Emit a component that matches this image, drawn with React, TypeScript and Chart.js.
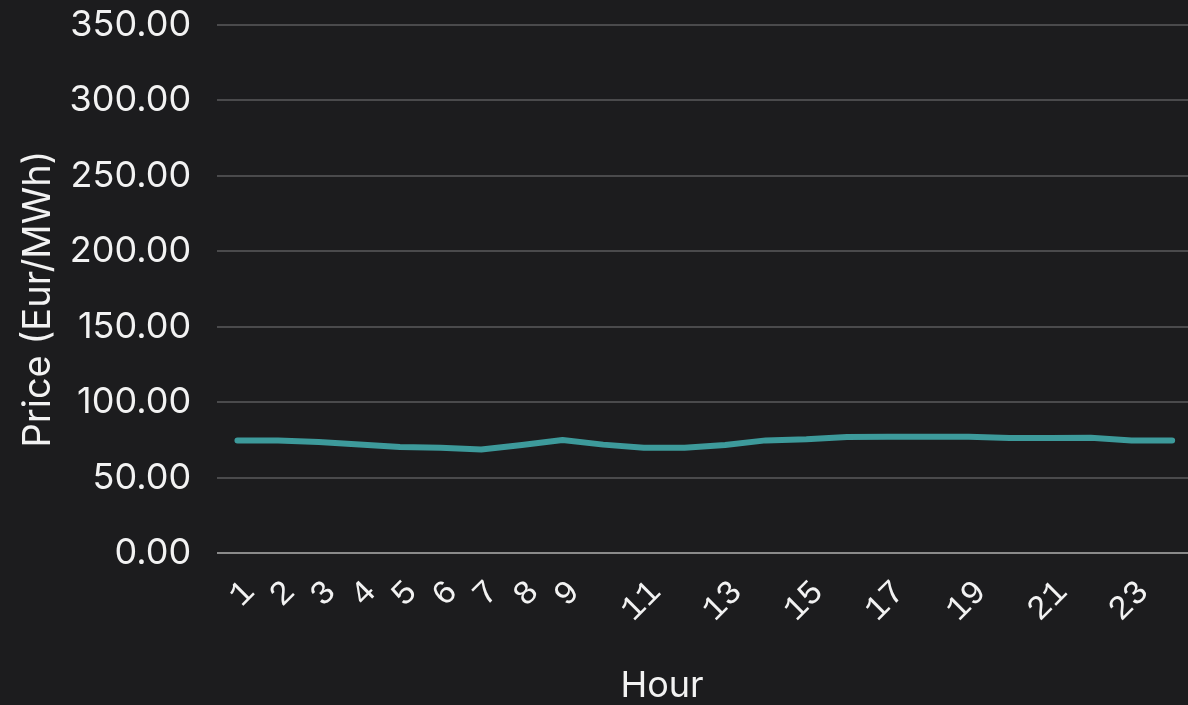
import React, { useEffect, useRef } from "react";
import { Chart, registerables } from "chart.js";

Chart.register(...registerables);

const hours: string[] = [
  "1", "2", "3", "4", "5", "6", "7", "8", "9", "10", "11", "12",
  "13", "14", "15", "16", "17", "18", "19", "20", "21", "22", "23", "24",
];

const prices: number[] = [
  74.8, 74.8, 73.7, 72.0, 70.4, 69.9, 68.8, 71.7, 75.0, 72.0, 69.9, 69.9,
  71.7, 74.8, 75.5, 77.0, 77.2, 77.2, 77.2, 76.4, 76.4, 76.6, 74.8, 74.8,
];

const yMin = 0;
const yMax = 350;
const yStep = 50;

const X_TITLE = "Hour";
const Y_TITLE = "Price (Eur/MWh)";

const BG = "#1c1c1e";
const TEXT = "#f2f2f2";
const SANS = "Inter, sans-serif";
const MONO = "'Liberation Mono', monospace";

const axisTitlePlugin = {
  id: "axisTitles",
  afterDraw(chart: any) {
    const { ctx } = chart;
    ctx.save();
    ctx.fillStyle = TEXT;
    ctx.textAlign = "center";
    ctx.textBaseline = "alphabetic";
    ctx.font = `36px ${SANS}`;
    ctx.fillText(X_TITLE, 662, 697);
    ctx.translate(50, 299);
    ctx.rotate(-Math.PI / 2);
    ctx.font = `38px ${SANS}`;
    ctx.fillText(Y_TITLE, 0, 0);
    ctx.restore();
  },
};

export default function App() {
  const ref = useRef<HTMLCanvasElement | null>(null);

  useEffect(() => {
    if (!ref.current) return;
    const chart = new Chart(ref.current, {
      type: "line",
      data: {
        labels: hours,
        datasets: [
          {
            label: "Price",
            data: prices,
            borderColor: "#3d9a9b",
            backgroundColor: "#3d9a9b",
            borderWidth: 6,
            pointRadius: 0,
            tension: 0,
            borderCapStyle: "round",
            borderJoinStyle: "round",
          },
        ],
      },
      plugins: [axisTitlePlugin],
      options: {
        responsive: false,
        animation: false,
        devicePixelRatio: 1,
        layout: { padding: { top: 25, right: 0, bottom: 75, left: 69.5 } },
        plugins: { legend: { display: false }, tooltip: { enabled: false } },
        scales: {
          x: {
            offset: true,
            grid: {
              display: true,
              drawOnChartArea: false,
              drawTicks: true,
              tickLength: 19,
              color: "rgba(0,0,0,0)",
              tickColor: "rgba(0,0,0,0)",
            },
            border: { display: false },
            ticks: {
              autoSkip: false,
              minRotation: 45,
              maxRotation: 45,
              padding: 0,
              labelOffset: 12,
              color: TEXT,
              font: { family: MONO, size: 34 },
              callback: (_v: any, i: number) => {
                const n = Number(hours[i]);
                return n >= 10 && n % 2 === 0 ? "" : hours[i];
              },
            },
          },
          y: {
            min: yMin,
            max: yMax,
            grid: {
              color: (ctx: any) => (ctx.tick && ctx.tick.value === 0 ? "#8a8a8a" : "#4a4a4c"),
              lineWidth: 2,
              drawTicks: true,
              tickLength: 26,
              tickColor: "rgba(0,0,0,0)",
            },
            border: { display: false },
            ticks: {
              stepSize: yStep,
              padding: 0,
              color: TEXT,
              font: { family: SANS, size: 36 },
              callback: (v: any) => Number(v).toFixed(2),
            },
          },
        },
      },
    });
    return () => chart.destroy();
  }, []);

  return (
    <div
      style={{
        position: "fixed",
        left: 0,
        top: 0,
        width: 1188,
        height: 705,
        overflow: "hidden",
        background: BG,
      }}
    >
      <canvas ref={ref} width={1201} height={705} style={{ display: "block" }} />
    </div>
  );
}
